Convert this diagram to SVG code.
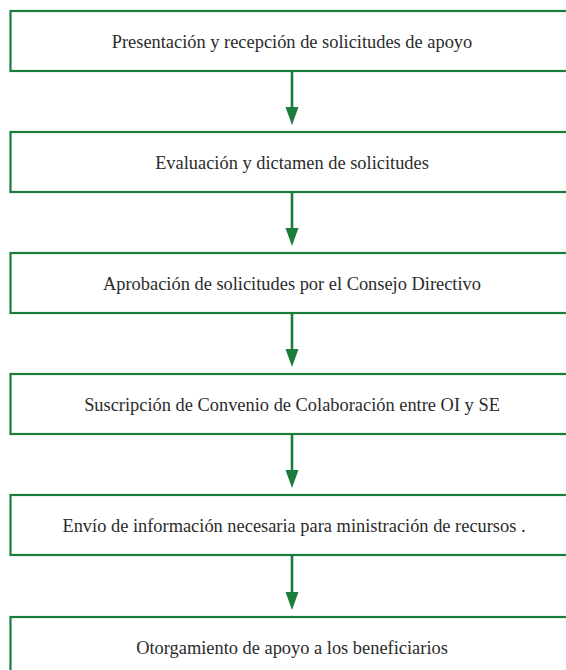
<svg xmlns="http://www.w3.org/2000/svg" width="566" height="670" viewBox="0 0 566 670">
<defs>
<style>
.box{fill:#ffffff;stroke:#1a7d3b;stroke-width:2.2}
.lbl{font-family:"Liberation Serif","Times New Roman",serif;font-size:18.4px;fill:#2b2b2b;text-anchor:middle}
.shaft{stroke:#1a7d3b;stroke-width:2.6;fill:none}
.head{fill:#1a7d3b}
</style>
</defs>
<rect x="0" y="0" width="566" height="670" fill="#ffffff"/>
<g id="connectors">
<line class="shaft" x1="292" y1="71" x2="292" y2="109"/><polygon class="head" points="285.5,107 298.5,107 292,125"/>
<line class="shaft" x1="292" y1="192" x2="292" y2="230"/><polygon class="head" points="285.5,228 298.5,228 292,246"/>
<line class="shaft" x1="292" y1="313" x2="292" y2="351"/><polygon class="head" points="285.5,349 298.5,349 292,367"/>
<line class="shaft" x1="292" y1="434" x2="292" y2="472"/><polygon class="head" points="285.5,470 298.5,470 292,488"/>
<line class="shaft" x1="292" y1="555" x2="292" y2="594"/><polygon class="head" points="285.5,592 298.5,592 292,610"/>
</g>
<g id="n1"><rect class="box" x="10.5" y="11" width="600" height="60"/><text class="lbl" x="292" y="48">Presentación y recepción de solicitudes de apoyo</text></g>
<g id="n2"><rect class="box" x="10.5" y="132" width="600" height="60"/><text class="lbl" x="292" y="169">Evaluación y dictamen de solicitudes</text></g>
<g id="n3"><rect class="box" x="10.5" y="253" width="600" height="60"/><text class="lbl" x="292" y="290">Aprobación de solicitudes por el Consejo Directivo</text></g>
<g id="n4"><rect class="box" x="10.5" y="374" width="600" height="60"/><text class="lbl" x="292" y="411">Suscripción de Convenio de Colaboración entre OI y SE</text></g>
<g id="n5"><rect class="box" x="10.5" y="495" width="600" height="60"/><text class="lbl" x="294" y="532">Envío de información necesaria para ministración de recursos .</text></g>
<g id="n6"><rect class="box" x="10.5" y="617" width="600" height="60"/><text class="lbl" x="292" y="654">Otorgamiento de apoyo a los beneficiarios</text></g>
</svg>
